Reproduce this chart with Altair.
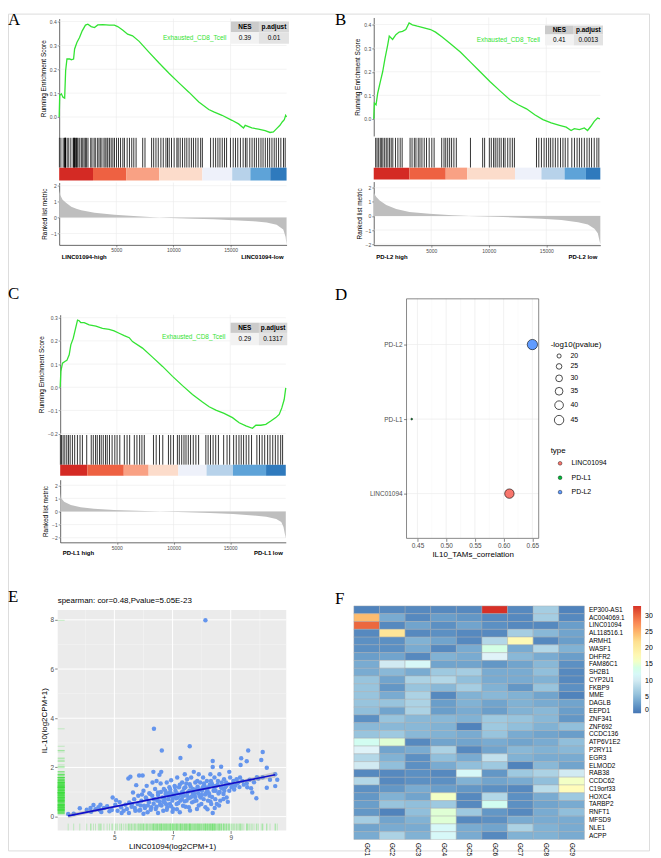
import altair as alt
import pandas as pd

W, H = 645, 842
SANS = "Liberation Sans"
SERIF = "Liberation Serif"
GREEN = "#33e333"
GRIDC = "#ebebeb"

# ---------------- GSEA data ----------------
GSEA_X_TICKS = [5000, 10000, 15000]
BAR_COLORS = ["#d42a24", "#ee6142", "#f9a184", "#fcdccb", "#eef1fa", "#b7d2ea", "#5ea3d8", "#2f7abd"]
GSEA_SET = "Exhausted_CD8_Tcell"

A_N = 19900
A_ES_X = [0, 45, 190, 335, 480, 565, 680, 915, 1060, 1260,
          1350, 1550, 1780, 2015, 2300, 2510, 2800, 3090, 3380, 3810,
          4390, 4825, 5120, 5550, 5990, 6420, 7000, 7870, 8740, 9610,
          10480, 11350, 12220, 13090, 13530, 14250, 15120, 15700, 16130, 16280,
          16860, 17440, 18020, 18450, 18750, 19030, 19320, 19520, 19700, 19820, 19900]
A_ES_Y = [0.0, 0.09, 0.097, 0.083, 0.079, 0.194, 0.243, 0.243, 0.24, 0.243,
          0.285, 0.3125, 0.333, 0.361, 0.385, 0.389, 0.379, 0.375, 0.386, 0.3875,
          0.385, 0.385, 0.379, 0.365, 0.347, 0.34, 0.317, 0.271, 0.226, 0.183,
          0.143, 0.104, 0.0625, 0.031, 0.021, 0.007, -0.014, -0.029, -0.046, -0.035,
          -0.046, -0.051, -0.057, -0.065, -0.0625, -0.049, -0.035, -0.021, -0.011, 0.007, 0.0]
A_HITS = [20, 150, 350, 490, 500, 520, 540, 560, 700, 840, 1020, 1220, 1280, 1300, 1330, 1380,
          1450, 1520, 1570, 1650, 1800, 1940, 2060, 2180, 2290, 2380, 2520, 2760, 2870, 3050,
          3160, 3340, 3480, 3600, 3740, 3920, 4030, 4180, 4260, 4410, 4550, 4700, 4840, 5020,
          5190, 5370, 5570, 5710, 5950, 6150, 6350, 6530, 6730, 7310, 7510, 8090, 8270, 8470,
          8670, 8900, 9110, 9340, 9480, 9630, 9830, 10060, 10300, 10410, 10590, 10790, 10990,
          11170, 11370, 11570, 11750, 11950, 12150, 12380, 12530, 13250, 13490, 13690, 13890,
          14070, 14270, 14470, 14650, 14990, 15230, 15430, 15630, 15860, 16100, 16300, 16440,
          16680, 16880, 17080, 17260, 17460, 17660, 17840, 18040, 18240, 18420, 18620, 18820,
          19000, 19200, 19400, 19630, 19780]
A_BAR = [0, 2960, 5860, 8760, 12530, 15140, 16730, 18470, 19900]
A_RK_X = [0, 100, 300, 625, 1060, 1500, 1930, 3090, 4830, 6850, 8300, 9760, 11780, 13520,
          15260, 17000, 18160, 19030, 19610, 19810, 19900]
A_RK_Y = [1.68, 1.4, 1.12, 0.92, 0.68, 0.56, 0.47, 0.3, 0.18, 0.08, 0.02, -0.02, -0.07, -0.11,
          -0.16, -0.23, -0.3, -0.44, -0.75, -1.2, -1.7]
A_TABLE = ["0.39", "0.01"]

B_N = 19700
B_ES_X = [0, 57, 200, 345, 575, 776, 977, 1207, 1350, 1640,
          1925, 2213, 2500, 2790, 3075, 3360, 3790, 4370, 4940, 5375,
          5950, 6670, 7530, 8390, 9250, 10120, 10980, 11840, 12560, 13280,
          14000, 14710, 15430, 16150, 16730, 17160, 17440, 17880, 18310, 18590,
          18880, 19170, 19460, 19660]
B_ES_Y = [0.0, 0.067, 0.06, 0.109, 0.158, 0.2, 0.256, 0.312, 0.351, 0.337,
          0.357, 0.368, 0.371, 0.379, 0.407, 0.399, 0.393, 0.386, 0.379, 0.368,
          0.347, 0.319, 0.284, 0.242, 0.2, 0.158, 0.119, 0.081, 0.06, 0.043,
          0.018, -0.003, -0.017, -0.027, -0.035, -0.049, -0.041, -0.045, -0.038, -0.049,
          -0.031, -0.01, 0.004, 0.0]
B_HITS = [170, 290, 430, 570, 690, 800, 950, 1090, 1230, 1380, 1520, 1660, 1890, 2100, 2300,
          2470, 3160, 3330, 3530, 3670, 3870, 4020, 4190, 4390, 4590, 4820, 5050, 5250, 5910,
          6110, 6260, 6430, 6600, 6770, 6970, 7180, 8410, 9470, 9640, 10050, 10220, 10420,
          10560, 10730, 10910, 11080, 11280, 11420, 11650, 11850, 12050, 12230, 14150, 14350,
          14580, 14810, 15010, 15210, 15380, 15580, 15790, 16010, 16240, 16450, 16650, 16880,
          17220, 17450, 17680, 17880, 18080, 18310, 18540, 18740, 18940, 19170, 19400, 19570]
B_BAR = [0, 3100, 6260, 8130, 12280, 14580, 16590, 18450, 19700]
B_RK_X = [0, 100, 230, 517, 1090, 1955, 3100, 4830, 6840, 8280, 10580, 12590, 14600, 16320,
          17760, 18620, 19190, 19480, 19700]
B_RK_Y = [1.68, 1.5, 1.34, 1.1, 0.78, 0.49, 0.29, 0.15, 0.05, 0.0, -0.05, -0.12, -0.2, -0.29,
          -0.44, -0.61, -0.9, -1.22, -2.0]
B_TABLE = ["0.41", "0.0013"]

C_N = 19900
C_ES_X = [0, 60, 205, 410, 590, 795, 940, 1150, 1320, 1530,
          1675, 1820, 2120, 2560, 3150, 3730, 4320, 4760, 5200, 5650,
          6090, 6380, 7260, 8140, 9030, 9910, 10790, 11670, 12550, 13140,
          13730, 14460, 15200, 15790, 16380, 16960, 17260, 17700, 18140, 18580,
          19020, 19320, 19550, 19760, 19900]
C_ES_Y = [0.0, 0.069, 0.104, 0.111, 0.116, 0.14, 0.183, 0.211, 0.247, 0.29,
          0.287, 0.279, 0.279, 0.269, 0.264, 0.254, 0.25, 0.243, 0.233, 0.223,
          0.214, 0.197, 0.169, 0.13, 0.09, 0.047, 0.007, -0.031, -0.064, -0.084,
          -0.099, -0.113, -0.131, -0.153, -0.167, -0.177, -0.164, -0.164, -0.16, -0.146,
          -0.131, -0.117, -0.089, -0.053, -0.003]
C_HITS = [20, 120, 260, 410, 580, 730, 880, 1080, 1280, 1520, 1750, 1960, 2340, 2740, 2920,
          3120, 3270, 3470, 3620, 3800, 4000, 4150, 4350, 4580, 4820, 5020, 5260, 5660, 5900,
          6130, 6540, 6770, 7010, 7210, 7420, 8230, 8470, 8760, 9050, 9550, 9750, 9990, 10340,
          10510, 10720, 10920, 11100, 11300, 11500, 11740, 11970, 12210, 12850, 13050, 13260,
          13490, 13720, 13960, 14420, 14720, 14950, 15300, 15530, 15770, 15970, 16180, 16410,
          16640, 16880, 17350, 17580, 17810, 18040, 18300, 18510, 18750, 18980, 19210, 19450,
          19620]
C_BAR = [0, 2390, 5610, 7800, 10420, 12910, 15240, 18160, 19900]
C_RK_X = [0, 60, 350, 940, 1810, 2980, 4740, 6790, 8830, 11160, 13210, 15260, 17010, 18180,
          19060, 19500, 19700, 19900]
C_RK_Y = [1.4, 1.04, 0.74, 0.49, 0.32, 0.2, 0.12, 0.05, 0.0, -0.05, -0.12, -0.2, -0.3, -0.4,
          -0.57, -0.81, -1.19, -2.05]
C_TABLE = ["0.29", "0.1317"]

# ---------------- Panel D data ----------------
D_GENES = ["LINC01094", "PD-L1", "PD-L2"]
D_ORDER = ["PD-L2", "PD-L1", "LINC01094"]
D_CORR = [0.61, 0.44, 0.65]
D_LOGP = [45, 15, 51]
D_COLORS = ["#F8766D", "#00BA38", "#619CFF"]
D_X_TICKS = [0.45, 0.50, 0.55, 0.60, 0.65]
D_X_MINOR = [0.475, 0.525, 0.575, 0.625]
D_SIZE_VALUES = [20, 25, 30, 35, 40, 45]

# ---------------- Panel E data ----------------
E_X = [3.41, 3.81, 4.18, 4.28, 4.35, 4.49, 4.52, 4.64, 4.55, 4.83,
       4.94, 4.91, 5.06, 5.03, 5.11, 5.18, 5.23, 5.32, 5.38, 5.43,
       5.48, 5.55, 5.51, 5.59, 5.64, 5.68, 5.72, 5.75, 5.80, 5.82,
       5.85, 5.89, 5.93, 5.97, 6.00, 6.02, 6.08, 6.11, 6.14, 6.19,
       6.23, 6.27, 6.31, 6.34, 6.36, 6.40, 6.42, 6.45, 6.48, 6.50,
       6.55, 6.57, 6.59, 6.61, 6.65, 6.68, 6.70, 6.73, 6.76, 6.80,
       6.82, 6.85, 6.89, 6.91, 6.93, 6.95, 6.99, 7.02, 7.05, 7.07,
       7.10, 7.14, 7.16, 7.18, 7.22, 7.25, 7.27, 7.31, 7.33, 7.36,
       7.39, 7.42, 7.44, 7.48, 7.50, 7.52, 7.56, 7.59, 7.61, 7.64,
       7.67, 7.70, 7.73, 7.75, 7.78, 7.82, 7.84, 7.86, 7.90, 7.93,
       7.95, 7.99, 8.01, 8.05, 8.07, 8.10, 8.13, 8.16, 8.18, 8.22,
       8.24, 8.27, 8.30, 8.33, 8.35, 8.38, 8.41, 8.44, 8.47, 8.50,
       8.52, 8.56, 8.58, 8.61, 8.64, 8.67, 8.69, 8.75, 8.77, 8.81,
       8.84, 8.86, 8.92, 8.98, 9.03, 9.09, 9.15, 9.20, 9.26, 9.32,
       8.13, 6.36, 6.63, 7.59, 7.27, 8.38, 8.38, 8.67, 8.95, 9.60,
       9.36, 9.55, 9.34, 10.10, 10.05, 10.24, 10.53, 10.53, 10.24, 9.88,
       9.74, 9.55, 9.57, 6.05, 6.15, 6.25, 6.35, 6.45, 6.55, 6.62,
       6.72, 6.78, 6.88, 6.95, 7.03, 7.12, 7.20, 7.28, 7.35, 7.42,
       7.50, 7.58, 7.66, 7.74, 7.80, 7.88, 7.96, 8.04, 8.12, 8.20,
       8.28, 8.36, 8.44, 5.60, 5.70, 5.90, 5.95, 6.10, 6.20, 6.30,
       6.40, 6.50, 6.60, 6.68, 6.75, 6.85, 6.92, 7.00, 7.08, 7.15,
       7.25, 7.32, 7.40, 7.47, 7.55, 7.62, 7.70, 7.78, 7.85, 7.92,
       8.00, 8.08, 8.15, 8.25, 8.32, 8.40, 8.48, 8.55, 8.62, 8.70,
       8.78, 8.85, 8.95, 9.05, 9.12, 9.22, 9.30, 9.40, 9.45, 9.65,
       9.80, 9.95, 10.10, 10.35, 10.60, 9.70, 9.90, 8.90, 8.60, 8.20,
       7.60, 7.00, 6.50, 6.00, 5.50, 8.45, 8.75, 8.30, 7.90, 7.45,
       7.15, 6.80, 5.85, 5.25, 4.75, 4.45, 4.20, 3.60, 4.05]
E_Y = [0.11, 0.34, 0.35, 0.47, 0.30, 0.27, 0.48, 0.35, 0.19, 0.22,
       0.78, 0.27, 0.67, 0.48, 0.24, 0.59, 0.38, 0.24, 0.48, 0.31,
       1.55, 1.62, 0.58, 0.40, 0.98, 0.71, 0.24, 1.28, 0.51, 0.85,
       1.67, 0.27, 0.65, 1.67, 1.05, 0.44, 0.78, 1.25, 0.18, 0.58,
       0.92, 0.38, 1.39, 1.82, 0.71, 1.12, 0.31, 1.45, 0.65, 0.98,
       1.70, 0.48, 1.35, 1.82, 0.78, 0.24, 1.12, 0.58, 0.92, 1.39,
       0.38, 0.71, 1.19, 0.51, 0.98, 1.48, 0.65, 0.31, 0.85, 1.25,
       1.05, 0.51, 1.59, 0.78, 1.19, 0.18, 0.65, 0.98, 1.39, 0.44,
       0.85, 1.72, 1.19, 0.65, 1.52, 0.98, 0.38, 1.32, 0.78, 1.59,
       0.58, 1.12, 1.82, 0.92, 1.39, 0.65, 0.31, 1.22, 1.72, 0.85,
       1.39, 0.51, 1.05, 1.59, 0.71, 1.25, 0.38, 0.98, 1.45, 0.65,
       1.19, 0.85, 1.72, 0.51, 1.35, 0.15, 1.05, 1.59, 0.71, 1.25,
       0.51, 1.45, 0.94, 1.72, 0.65, 1.19, 1.39, 0.92, 1.52, 1.19,
       1.39, 0.78, 1.32, 1.59, 1.19, 1.45, 1.25, 1.52, 1.39, 1.59,
       7.98, 3.57, 2.69, 2.86, 2.38, 2.26, 2.02, 2.03, 1.82, 2.69,
       2.37, 2.25, 2.10, 2.63, 2.30, 1.99, 1.72, 1.24, 1.17, 0.75,
       0.98, 1.36, 1.19, 0.35, 0.45, 0.28, 0.52, 0.40, 0.62, 0.45,
       0.72, 0.50, 0.82, 0.42, 0.90, 0.75, 0.55, 0.88, 1.02, 0.62,
       0.85, 1.05, 0.82, 0.62, 1.10, 0.95, 0.78, 1.20, 0.90, 1.05,
       1.30, 0.80, 1.12, 0.50, 0.35, 0.45, 0.90, 0.72, 0.95, 0.85,
       0.70, 0.88, 1.00, 0.60, 1.05, 0.95, 1.10, 0.78, 1.20, 0.95,
       1.30, 0.72, 1.15, 1.35, 0.75, 1.22, 0.95, 0.80, 1.45, 1.10,
       0.88, 1.35, 1.15, 0.95, 1.45, 1.25, 1.05, 1.30, 1.00, 1.15,
       1.05, 1.25, 1.05, 1.30, 1.10, 1.35, 1.20, 1.45, 1.30, 1.50,
       1.40, 1.55, 1.60, 1.50, 1.50, 1.15, 1.60, 0.60, 0.45, 0.30,
       0.25, 0.20, 0.15, 0.12, 0.15, 0.35, 0.72, 0.62, 0.45, 0.40,
       0.30, 0.28, 0.25, 0.15, 0.42, 0.38, 0.20, 0.12, 0.28]
E_FIT_X = [3.41, 10.53]
E_FIT_Y = [0.03, 1.70]
E_BAND_X = [3.41, 5.0, 7.0, 9.0, 10.53]
E_BAND_LO = [-0.07, 0.363, 0.842, 1.291, 1.58]
E_BAND_HI = [0.13, 0.443, 0.902, 1.391, 1.82]
E_X_TICKS = [5, 7, 9]
E_X_MINOR = [4, 6, 8, 10]
E_Y_TICKS = [0, 2, 4, 6, 8]
E_Y_MINOR = [1, 3, 5, 7]

# ---------------- Panel F data ----------------
HM_COLS = ["GC1", "GC2", "GC3", "GC4", "GC5", "GC6", "GC7", "GC8", "GC9"]
HM_ROWS = ["EP300-AS1", "AC004069.1", "LINC01094", "AL118516.1", "ARMH1", "WASF1", "DHFR2",
           "FAM86C1", "SH2B1", "CYP2U1", "FKBP9", "MME", "DAGLB", "EEPD1", "ZNF341", "ZNF692",
           "CCDC136", "ATP6V1E2", "P2RY11", "EGR3", "ELMOD2", "RAB38", "CCDC62", "C19orf33",
           "HOXC4", "TARBP2", "RNFT1", "MFSD9", "NLE1", "ACPP"]
HM_VALUES = [
    [1.0, 1.5, 1.5, 1.5, 1.5, 33.0, 1.5, 7.0, 1.0],
    [24.5, 4.0, 1.5, 3.0, 2.5, 1.5, 1.5, 7.0, 1.5],
    [30.0, 1.5, 3.5, 2.0, 3.5, 2.0, 1.5, 1.5, 3.0],
    [1.5, 21.0, 1.5, 2.0, 1.5, 1.5, 7.0, 5.0, 3.5],
    [2.0, 2.0, 4.5, 3.5, 1.5, 8.0, 17.5, 1.5, 3.0],
    [2.0, 2.0, 4.0, 1.5, 4.0, 14.0, 4.0, 8.0, 4.5],
    [3.0, 3.5, 1.5, 4.5, 4.0, 11.0, 5.0, 4.0, 3.0],
    [4.0, 10.0, 12.0, 3.5, 3.5, 2.5, 3.5, 5.0, 2.0],
    [4.0, 5.0, 4.0, 6.5, 7.0, 4.0, 4.0, 5.5, 1.5],
    [6.0, 3.5, 7.5, 8.0, 5.5, 4.0, 4.0, 4.5, 1.5],
    [6.0, 2.5, 6.0, 5.0, 7.0, 4.5, 2.5, 6.0, 2.0],
    [6.0, 4.0, 7.5, 1.5, 4.5, 5.0, 4.5, 3.5, 1.0],
    [6.0, 6.0, 7.5, 3.0, 4.5, 3.5, 4.5, 4.0, 3.5],
    [5.5, 3.5, 7.5, 3.0, 4.0, 3.0, 4.5, 5.0, 3.0],
    [2.0, 6.0, 5.0, 5.0, 4.5, 6.5, 6.0, 5.0, 2.5],
    [5.0, 5.0, 5.0, 4.5, 1.0, 6.5, 5.5, 4.5, 5.5],
    [6.0, 6.5, 5.0, 4.5, 4.0, 6.0, 4.0, 3.5, 3.0],
    [13.0, 15.0, 1.5, 3.5, 3.5, 4.0, 3.5, 4.0, 5.5],
    [11.0, 3.5, 4.0, 7.5, 1.5, 3.5, 5.0, 4.5, 5.0],
    [8.0, 4.5, 2.0, 5.5, 4.0, 9.0, 4.5, 4.0, 4.0],
    [10.0, 5.5, 2.0, 4.0, 5.5, 6.5, 1.0, 5.0, 3.5],
    [1.5, 1.5, 2.0, 1.5, 12.0, 2.5, 6.5, 7.5, 10.0],
    [8.0, 1.5, 2.0, 2.0, 4.5, 3.5, 4.0, 5.5, 16.0],
    [2.0, 2.5, 4.0, 3.0, 2.5, 2.0, 1.5, 8.5, 17.0],
    [2.5, 4.5, 3.5, 16.0, 1.5, 8.0, 2.0, 4.0, 6.5],
    [3.0, 6.0, 5.5, 6.5, 1.5, 13.0, 2.0, 3.5, 4.0],
    [2.5, 1.0, 5.5, 15.0, 6.5, 2.5, 1.5, 4.0, 5.5],
    [7.0, 3.5, 4.5, 15.0, 1.5, 2.0, 4.0, 4.0, 4.0],
    [3.5, 4.0, 4.0, 12.0, 4.0, 3.5, 7.5, 4.5, 4.0],
    [4.0, 7.5, 4.5, 12.0, 4.0, 1.5, 4.5, 4.5, 4.0],
]
HM_STOPS = [0, 5.5, 11, 16.5, 22, 27.5, 33]
HM_PALETTE = ["#4575B4", "#91BFDB", "#E0F3F8", "#FFFFBF", "#FEE090", "#FC8D59", "#D73027"]
HM_LEGEND_VALUES = [0, 5, 10, 15, 20, 25, 30]

# ---------------- helpers ----------------
DUMMY = pd.DataFrame({"k": [0]})


def sc(domain, rng):
    return alt.Scale(domain=domain, range=rng, zero=False, nice=False)


def text(s, x, y, size=7, color="black", weight="normal", align="left",
         baseline="middle", font=SANS, angle=0):
    return alt.Chart(DUMMY).mark_text(
        text=s, fontSize=size, color=color, fontWeight=weight, align=align,
        baseline=baseline, font=font, angle=angle
    ).encode(x=alt.value(x), y=alt.value(y))


def box(x1, x2, y1, y2, fill, stroke="#ffffff", sw=0, fo=1):
    return alt.Chart(DUMMY).mark_rect(
        fill=fill, fillOpacity=fo, stroke=stroke, strokeWidth=sw
    ).encode(x=alt.value(x1), x2=alt.value(x2), y=alt.value(y1), y2=alt.value(y2))


def vgrid(vals, scale, y1, y2, color, width):
    return alt.Chart(pd.DataFrame({"g": vals})).mark_rule(color=color, strokeWidth=width).encode(
        x=alt.X("g:Q", scale=scale, axis=None), y=alt.value(y1), y2=alt.value(y2))


def hgrid(vals, scale, x1, x2, color, width, typ="Q"):
    return alt.Chart(pd.DataFrame({"g": vals})).mark_rule(color=color, strokeWidth=width).encode(
        y=alt.Y("g:" + typ, scale=scale, axis=None), x=alt.value(x1), x2=alt.value(x2))


GAX = dict(labelFontSize=5, labelColor="#4d4d4d", labelFont=SANS, tickSize=2,
           tickColor="#333333", tickWidth=0.5, domainColor="black", domainWidth=0.6,
           labelPadding=1, titleFontSize=6.5, titleFont=SANS, titleFontWeight="normal",
           titleColor="black", titlePadding=3, grid=False)


def gsea(p):
    L = []
    x0, x1 = p["xr"]
    xs = sc([0, p["n"]], p["xr"])
    es_s = sc(p["es_dom"], p["es_r"])
    rk_s = sc(p["rk_dom"], p["rk_r"])
    # grids
    L.append(vgrid(GSEA_X_TICKS, xs, p["es_r"][1], p["es_r"][0], GRIDC, 0.6))
    L.append(vgrid(GSEA_X_TICKS, xs, p["rk_r"][1], p["rk_r"][0], GRIDC, 0.6))
    L.append(hgrid(p["es_ticks"], es_s, x0, x1, GRIDC, 0.6))
    L.append(hgrid(p["rk_ticks"], rk_s, x0, x1, GRIDC, 0.6))
    # running enrichment score
    es = pd.DataFrame({"rank": p["es_x"], "es": p["es_y"]})
    L.append(alt.Chart(es).mark_line(color=GREEN, strokeWidth=1.3).encode(
        x=alt.X("rank:Q", scale=xs, axis=None),
        y=alt.Y("es:Q", scale=es_s, axis=alt.Axis(
            orient="left", offset=-x0, values=p["es_ticks"], format=".1f",
            title="Running Enrichment Score", **GAX))))
    # hits
    hits = pd.DataFrame({"h": p["hits"]})
    L.append(alt.Chart(hits).mark_rule(color="black", strokeWidth=0.8).encode(
        x=alt.X("h:Q", scale=xs, axis=None),
        y=alt.value(p["hits_y"][0]), y2=alt.value(p["hits_y"][1])))
    # colour bar
    bar = pd.DataFrame({"s": p["bar"][:-1], "e": p["bar"][1:], "c": BAR_COLORS})
    L.append(alt.Chart(bar).mark_rect().encode(
        x=alt.X("s:Q", scale=xs, axis=None), x2="e:Q",
        y=alt.value(p["bar_y"][0]), y2=alt.value(p["bar_y"][1]),
        color=alt.Color("c:N", scale=None)))
    # ranked list metric
    rk = pd.DataFrame({"rank": p["rk_x"], "m": p["rk_y"]})
    L.append(alt.Chart(rk).mark_area(color="#bebebe").encode(
        x=alt.X("rank:Q", scale=xs, axis=alt.Axis(
            orient="bottom", offset=p["rk_r"][0] - H, values=GSEA_X_TICKS, format="d",
            title=None, **GAX)),
        y=alt.Y("m:Q", scale=rk_s, axis=alt.Axis(
            orient="left", offset=-x0, values=p["rk_ticks"], format="d",
            title="Ranked list metric", **GAX)),
        y2=alt.datum(0)))
    # table
    tx = p["tx"]
    ty = p["ty"]
    L.append(box(tx[0], tx[1], ty[0], ty[1], "#cbcbcb"))
    L.append(box(tx[1], tx[2], ty[0], ty[1], "#d8d8d8"))
    L.append(box(tx[0], tx[1], ty[1], ty[2], "#f2f2f2"))
    L.append(box(tx[1], tx[2], ty[1], ty[2], "#e3e3e3"))
    L.append(text("NES", (tx[0] + tx[1]) / 2, (ty[0] + ty[1]) / 2, 6.5, weight="bold", align="center"))
    L.append(text("p.adjust", (tx[1] + tx[2]) / 2, (ty[0] + ty[1]) / 2, 6.5, weight="bold", align="center"))
    L.append(text(p["table"][0], (tx[0] + tx[1]) / 2, (ty[1] + ty[2]) / 2, 6.5, align="center"))
    L.append(text(p["table"][1], (tx[1] + tx[2]) / 2, (ty[1] + ty[2]) / 2, 6.5, align="center"))
    L.append(text(GSEA_SET, p["lab"][0], p["lab"][1], 6.5, color=GREEN, align="right"))
    # group labels
    L.append(text(p["hi"], x0 + 2.5, p["hly"], 6, weight="bold"))
    L.append(text(p["lo"], x1 - 3, p["hly"], 6, weight="bold", align="right"))
    L.append(text(p["letter"], p["lxy"][0], p["lxy"][1], 17, font=SERIF, baseline="alphabetic"))
    return L


layers = []
layers += gsea(dict(n=A_N, es_x=A_ES_X, es_y=A_ES_Y, hits=A_HITS, bar=A_BAR, rk_x=A_RK_X, rk_y=A_RK_Y,
                    table=A_TABLE, xr=[51.5, 280.3], es_dom=[-0.0875, 0.4125], es_r=[125, 5],
                    es_ticks=[0.0, 0.1, 0.2, 0.3, 0.4], hits_y=[125, 155], bar_y=[155, 168],
                    rk_dom=[-1.71, 2.2], rk_r=[232.7, 170], rk_ticks=[-1, 0, 1, 2],
                    tx=[224.3, 252.5, 282.7], ty=[8, 18.7, 30.3], lab=(219.7, 24.3),
                    hi="LINC01094-high", lo="LINC01094-low", hly=245, letter="A", lxy=(0, 11)))
layers += gsea(dict(n=B_N, es_x=B_ES_X, es_y=B_ES_Y, hits=B_HITS, bar=B_BAR, rk_x=B_RK_X, rk_y=B_RK_Y,
                    table=B_TABLE, xr=[368, 596], es_dom=[-0.072, 0.43], es_r=[123.1, 3.9],
                    es_ticks=[0.0, 0.1, 0.2, 0.3, 0.4], hits_y=[125, 155], bar_y=[155, 167],
                    rk_dom=[-2.07, 2.44], rk_r=[233, 169], rk_ticks=[-2, -1, 0, 1, 2],
                    tx=[540.3, 569.2, 598.7], ty=[12, 21, 32], lab=(535.3, 27),
                    hi="PD-L2 high", lo="PD-L2 low", hly=245, letter="B", lxy=(329, 11)))
layers += gsea(dict(n=C_N, es_x=C_ES_X, es_y=C_ES_Y, hits=C_HITS, bar=C_BAR, rk_x=C_RK_X, rk_y=C_RK_Y,
                    table=C_TABLE, xr=[52.5, 279.5], es_dom=[-0.2, 0.313], es_r=[422.6, 303],
                    es_ticks=[-0.2, -0.1, 0.0, 0.1, 0.2, 0.3], hits_y=[424, 454], bar_y=[454, 465],
                    rk_dom=[-2.35, 2.42], rk_r=[532, 469], rk_ticks=[-2, -1, 0, 1, 2],
                    tx=[224, 252.5, 281], ty=[311, 321.3, 333.7], lab=(218.7, 325.3),
                    hi="PD-L1 high", lo="PD-L1 low", hly=542.7, letter="C", lxy=(0, 287)))

# ---------------- Panel D ----------------
dx = sc([0.431, 0.661], [401, 534])
dy = alt.Scale(type="point", domain=D_ORDER, range=[333, 483], padding=0)
layers.append(vgrid(D_X_MINOR, dx, 287, 528, "#f3f3f3", 0.4))
layers.append(vgrid(D_X_TICKS, dx, 287, 528, GRIDC, 0.7))
layers.append(hgrid(D_ORDER, dy, 401, 534, GRIDC, 0.7, typ="N"))
layers.append(box(401, 534, 287, 528, "#ffffff", stroke="#555555", sw=0.7, fo=0))
ddf = pd.DataFrame({"gene": D_GENES, "corr": D_CORR, "logp": D_LOGP})
DAX = dict(labelFontSize=6.5, labelColor="#4d4d4d", labelFont=SANS, tickSize=3,
           tickColor="#333333", tickWidth=0.6, domain=False, labelPadding=1.5,
           titleFontSize=8, titleFont=SANS, titleFontWeight="normal", titleColor="black",
           titlePadding=1, grid=False)
layers.append(alt.Chart(ddf).mark_circle(stroke="black", strokeWidth=0.6, opacity=1).encode(
    x=alt.X("corr:Q", scale=dx, axis=alt.Axis(orient="bottom", offset=528 - H, values=D_X_TICKS,
                                              format=".2f", title="IL10_TAMs_correlation", **DAX)),
    y=alt.Y("gene:N", scale=dy, axis=alt.Axis(orient="left", offset=-401, title=None, **DAX)),
    color=alt.Color("gene:N", scale=alt.Scale(domain=D_GENES, range=D_COLORS), legend=alt.Legend(
        orient="none", legendX=546, legendY=436, title="type", titleFontSize=8, titleFont=SANS,
        titleFontWeight="normal", titleColor="black", titlePadding=5, labelFontSize=7,
        labelFont=SANS, labelColor="black", symbolType="circle", symbolSize=14,
        symbolStrokeColor="black", symbolStrokeWidth=0.4, symbolOffset=6, labelOffset=8,
        rowPadding=6.5)),
    size=alt.Size("logp:Q", scale=alt.Scale(domain=[14, 50], range=[0, 104], zero=False, nice=False),
                  legend=alt.Legend(
        orient="none", legendX=546, legendY=329, title="-log10(pvalue)", titleFontSize=8,
        titleFont=SANS, titleFontWeight="normal", titleColor="black", titlePadding=4,
        labelFontSize=7, labelFont=SANS, labelColor="black", values=D_SIZE_VALUES,
        symbolType="circle", symbolFillColor="white", symbolStrokeColor="black",
        symbolStrokeWidth=0.7, symbolOffset=3, labelOffset=6, rowPadding=2.5))))
layers.append(text("D", 329, 288, 17, font=SERIF, baseline="alphabetic"))

# ---------------- Panel E ----------------
ex = sc([3.05, 10.91], [50, 280])
ey = sc([-0.566, 8.404], [822, 600])
layers.append(box(50, 280, 600, 822, "#ebebeb"))
layers.append(vgrid(E_X_MINOR, ex, 600, 822, "#f7f7f7", 0.5))
layers.append(hgrid(E_Y_MINOR, ey, 50, 280, "#f7f7f7", 0.5))
layers.append(vgrid(E_X_TICKS, ex, 600, 822, "white", 1.0))
layers.append(hgrid(E_Y_TICKS, ey, 50, 280, "white", 1.0))
edf = pd.DataFrame({"linc": E_X[:len(E_Y)], "il10": E_Y[:len(E_X)]})
layers.append(alt.Chart(edf).mark_rule(color="#33dd33", opacity=0.3, strokeWidth=0.8).encode(
    y=alt.Y("il10:Q", scale=ey, axis=None), x=alt.value(50), x2=alt.value(57)))
layers.append(alt.Chart(edf).mark_rule(color="#33dd33", opacity=0.3, strokeWidth=0.8).encode(
    x=alt.X("linc:Q", scale=ex, axis=None), y=alt.value(815), y2=alt.value(822)))
EAX = dict(labelFontSize=6.5, labelColor="#4d4d4d", labelFont=SANS, tickSize=3,
           tickColor="#333333", tickWidth=0.6, domain=False, labelPadding=1,
           titleFontSize=8, titleFont=SANS, titleFontWeight="normal", titleColor="black",
           titlePadding=2, grid=False)
layers.append(alt.Chart(edf).mark_circle(size=20, color="#6495ED", opacity=1).encode(
    x=alt.X("linc:Q", scale=ex, axis=alt.Axis(orient="bottom", offset=822 - H, values=E_X_TICKS,
                                              format="d", title="LINC01094(log2CPM+1)", **EAX)),
    y=alt.Y("il10:Q", scale=ey, axis=alt.Axis(orient="left", offset=-50, values=E_Y_TICKS,
                                              format="d", title="IL-10(log2CPM+1)", **EAX))))
band = pd.DataFrame({"x": E_BAND_X, "lo": E_BAND_LO, "hi": E_BAND_HI})
layers.append(alt.Chart(band).mark_area(color="#999999", opacity=0.4).encode(
    x=alt.X("x:Q", scale=ex, axis=None), y=alt.Y("lo:Q", scale=ey, axis=None), y2="hi:Q"))
fit = pd.DataFrame({"x": E_FIT_X, "y": E_FIT_Y})
layers.append(alt.Chart(fit).mark_line(color="#1010cc", strokeWidth=1.6).encode(
    x=alt.X("x:Q", scale=ex, axis=None), y=alt.Y("y:Q", scale=ey, axis=None)))
layers.append(text("spearman: cor=0.48,Pvalue=5.05E-23", 50, 591, 8))
layers.append(text("E", 0, 592, 17, font=SERIF, baseline="alphabetic"))

# ---------------- Panel F ----------------
hm_rows, hm_cols, hm_vals = [], [], []
for r, row in zip(HM_ROWS, HM_VALUES):
    for c, v in zip(HM_COLS, row):
        hm_rows.append(r)
        hm_cols.append(c)
        hm_vals.append(v)
hdf = pd.DataFrame({"row": hm_rows, "col": hm_cols, "v": hm_vals})
FAX = dict(labelFontSize=6.5, labelColor="black", labelFont=SANS, ticks=False, domain=False,
           grid=False, title=None)
layers.append(alt.Chart(hdf).mark_rect(stroke="#a8a8a8", strokeWidth=0.4).encode(
    x=alt.X("col:N", scale=alt.Scale(domain=HM_COLS, range=[348, 580], paddingInner=0, paddingOuter=0),
            axis=alt.Axis(orient="bottom", offset=831 - H, labelAngle=90, labelPadding=3, **FAX)),
    y=alt.Y("row:N", scale=alt.Scale(domain=HM_ROWS, range=[596, 831], paddingInner=0, paddingOuter=0),
            axis=alt.Axis(orient="right", offset=580 - W, labelPadding=4, **FAX)),
    color=alt.Color("v:Q", scale=alt.Scale(domain=HM_STOPS, range=HM_PALETTE), legend=alt.Legend(
        orient="none", legendX=629, legendY=596, direction="vertical", gradientLength=108,
        gradientThickness=8, title=None, values=HM_LEGEND_VALUES, labelFontSize=7,
        labelFont=SANS, labelColor="black", labelOffset=4, gradientStrokeWidth=0))))
layers.append(text("F", 329, 594, 17, font=SERIF, baseline="alphabetic"))

chart = alt.layer(*layers).resolve_scale(
    x="independent", y="independent", color="independent", size="independent"
).properties(width=W, height=H, padding=0).configure_view(stroke=None).configure(background="white")

chart.save("out.html", embed_options={"renderer": "svg", "actions": False})
